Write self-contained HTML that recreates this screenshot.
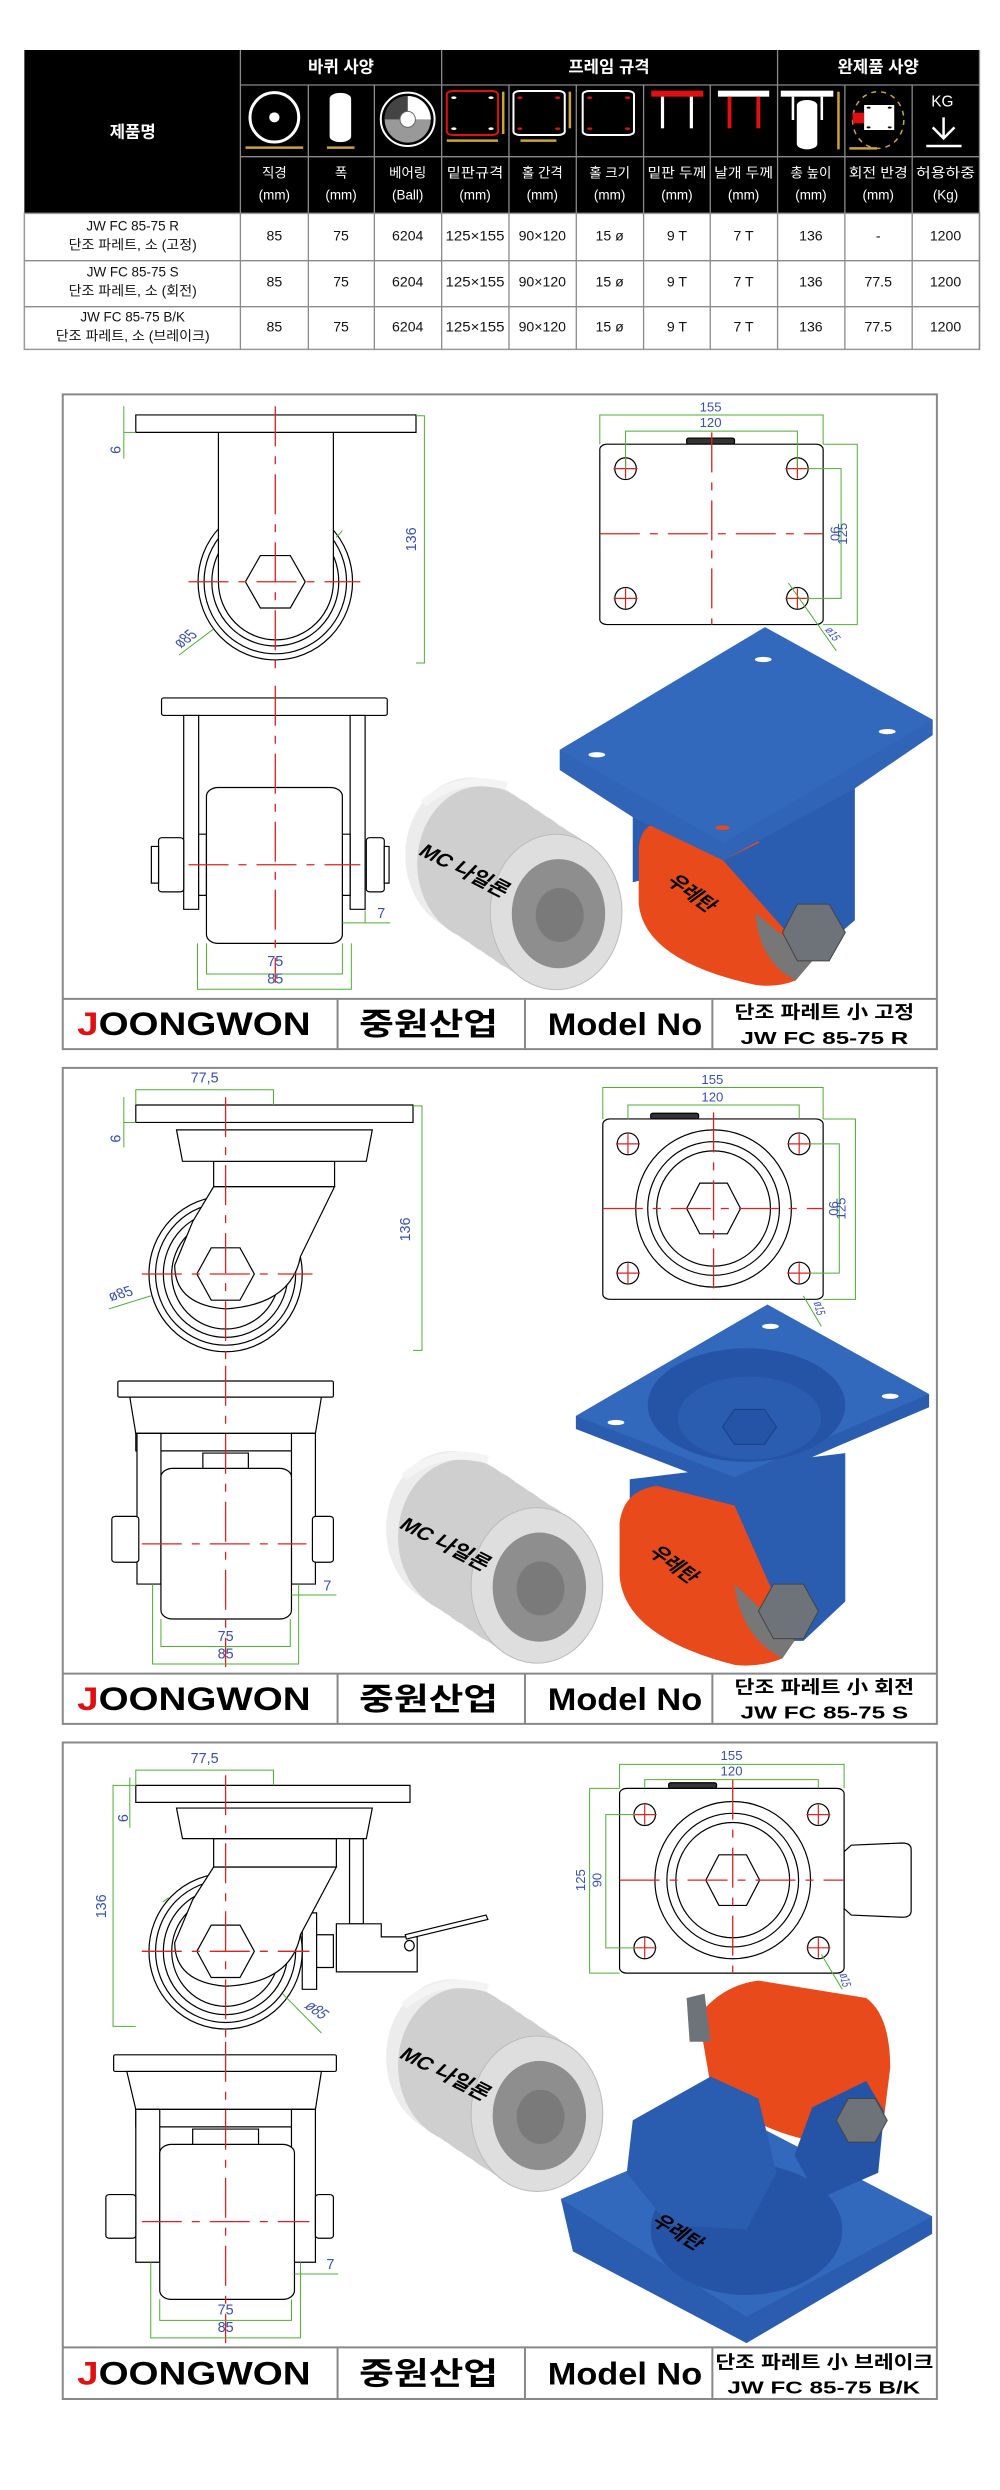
<!DOCTYPE html>
<html><head><meta charset="utf-8"><style>
html,body{margin:0;padding:0;background:#fff;}
body{width:1000px;height:2490px;position:relative;overflow:hidden;}
svg{position:absolute;left:0;top:0;overflow:visible;}
text{font-family:"Liberation Sans","Noto Sans CJK KR",sans-serif;}
svg line,svg rect,svg ellipse,svg path,svg polygon,svg polyline{vector-effect:non-scaling-stroke;}
</style></head><body>

<!-- TABLE -->
<svg style="left:0;top:40px" width="1000" height="320" viewBox="0 0 1560 960" preserveAspectRatio="none">
<rect x="38" y="30" width="1490" height="490" fill="#000"/>
<rect x="38" y="520" width="1490" height="408" fill="#fff" stroke="#999" stroke-width="1.5"/>
<g stroke="#8a8a8a" stroke-width="1.3">
<line x1="375" y1="30" x2="375" y2="928"/><line x1="689" y1="30" x2="689" y2="928"/><line x1="1213" y1="30" x2="1213" y2="928"/>
<line x1="481" y1="135" x2="481" y2="928"/><line x1="584" y1="135" x2="584" y2="928"/><line x1="794" y1="135" x2="794" y2="928"/>
<line x1="899" y1="135" x2="899" y2="928"/><line x1="1004" y1="135" x2="1004" y2="928"/><line x1="1108" y1="135" x2="1108" y2="928"/>
<line x1="1318" y1="135" x2="1318" y2="928"/><line x1="1423" y1="135" x2="1423" y2="928"/><line x1="1528" y1="30" x2="1528" y2="928"/>
<line x1="375" y1="135" x2="1528" y2="135"/><line x1="375" y1="350" x2="1528" y2="350"/>
<line x1="38" y1="662" x2="1528" y2="662"/><line x1="38" y1="800" x2="1528" y2="800"/>
</g>
<g fill="#fff" font-size="26" font-weight="bold" text-anchor="middle">
<text transform="translate(532 98) scale(1 1.92)">바퀴 사양</text>
<text transform="translate(950 98) scale(1 1.92)">프레임 규격</text>
<text transform="translate(1370 98) scale(1 1.92)">완제품 사양</text>
<text transform="translate(207 292) scale(1 1.92)">제품명</text>
</g>
<g fill="none" stroke="#fff">
<ellipse cx="428" cy="232" rx="38" ry="74" stroke-width="3"/>
<rect x="515" y="160" width="32" height="145" rx="16" fill="#fff"/>
<ellipse cx="636" cy="238" rx="42" ry="80" stroke-width="2"/>
<rect x="697" y="153" width="80" height="132" rx="10" stroke="#e01010" stroke-width="2"/>
<rect x="801" y="153" width="80" height="132" rx="10" stroke-width="2"/>
<rect x="909" y="153" width="80" height="132" rx="10" stroke-width="2"/>
</g>
<ellipse cx="428" cy="232" rx="8" ry="15" fill="#fff"/>
<ellipse cx="636" cy="238" rx="36" ry="70" fill="#999"/>
<path d="M636,238 L636,168 A36,70 0 0 1 672,238 Z" fill="#fff"/>
<path d="M636,238 L600,238 A36,70 0 0 1 636,168 Z" fill="#444"/>
<ellipse cx="636" cy="238" rx="12" ry="24" fill="#fff" stroke="#666"/>
<g fill="#fff"><circle cx="708" cy="173" r="4"/><circle cx="766" cy="173" r="4"/><circle cx="708" cy="266" r="4"/><circle cx="766" cy="266" r="4"/></g>
<g fill="#e01010"><circle cx="811" cy="173" r="4"/><circle cx="870" cy="173" r="4"/><circle cx="811" cy="266" r="4"/><circle cx="870" cy="266" r="4"/>
<circle cx="920" cy="173" r="4"/><circle cx="979" cy="173" r="4"/><circle cx="920" cy="266" r="4"/><circle cx="979" cy="266" r="4"/></g>
<rect x="1016" y="152" width="81" height="18" fill="#e01010"/>
<rect x="1031" y="170" width="5" height="95" fill="#fff"/><rect x="1076" y="170" width="5" height="95" fill="#fff"/>
<rect x="1120" y="152" width="80" height="18" fill="#fff"/>
<rect x="1135" y="170" width="6" height="95" fill="#e01010"/><rect x="1180" y="170" width="6" height="95" fill="#e01010"/>
<rect x="1218" y="152" width="82" height="18" fill="#fff"/>
<rect x="1235" y="170" width="4" height="70" fill="#fff"/><rect x="1280" y="170" width="4" height="70" fill="#fff"/>
<rect x="1243" y="180" width="32" height="148" rx="16" fill="#fff"/>
<ellipse cx="1370" cy="240" rx="40" ry="85" fill="none" stroke="#c9a43a" stroke-dasharray="5 5" stroke-width="1.5"/>
<rect x="1348" y="195" width="47" height="75" fill="#fff"/><rect x="1330" y="218" width="18" height="32" fill="#e01010"/>
<g fill="#000"><circle cx="1355" cy="203" r="3"/><circle cx="1388" cy="203" r="3"/><circle cx="1355" cy="262" r="3"/><circle cx="1388" cy="262" r="3"/></g>
<g stroke="#c9a43a" stroke-width="2.5">
<line x1="383" y1="323" x2="473" y2="323"/><line x1="510" y1="323" x2="553" y2="323"/>
<line x1="697" y1="302" x2="777" y2="302"/><line x1="812" y1="302" x2="868" y2="302"/>
<line x1="785" y1="155" x2="785" y2="282"/><line x1="889" y1="155" x2="889" y2="265"/>
<line x1="1308" y1="155" x2="1308" y2="328"/><line x1="1325" y1="325" x2="1368" y2="325"/>
</g>
<text transform="translate(1470 200) scale(1 1.92)" fill="#fff" font-size="24" text-anchor="middle">KG</text>
<g stroke="#fff" stroke-width="2.5" fill="none"><line x1="1472" y1="232" x2="1472" y2="295"/><polyline points="1455,262 1472,295 1489,262"/><line x1="1445" y1="318" x2="1500" y2="318"/></g>
<g fill="#fff" font-size="21" text-anchor="middle">
<text transform="translate(428 412) scale(1 1.92)">직경</text><text transform="translate(428 478) scale(1 1.92)">(mm)</text>
<text transform="translate(532 412) scale(1 1.92)">폭</text><text transform="translate(532 478) scale(1 1.92)">(mm)</text>
<text transform="translate(636 412) scale(1 1.92)">베어링</text><text transform="translate(636 478) scale(1 1.92)">(Ball)</text>
<text transform="translate(741 412) scale(1 1.92)" textLength="88" lengthAdjust="spacingAndGlyphs">밑판규격</text><text transform="translate(741 478) scale(1 1.92)">(mm)</text>
<text transform="translate(846 412) scale(1 1.92)">홀 간격</text><text transform="translate(846 478) scale(1 1.92)">(mm)</text>
<text transform="translate(951 412) scale(1 1.92)">홀 크기</text><text transform="translate(951 478) scale(1 1.92)">(mm)</text>
<text transform="translate(1056 412) scale(1 1.92)" textLength="92" lengthAdjust="spacingAndGlyphs">밑판 두께</text><text transform="translate(1056 478) scale(1 1.92)">(mm)</text>
<text transform="translate(1160 412) scale(1 1.92)" textLength="92" lengthAdjust="spacingAndGlyphs">날개 두께</text><text transform="translate(1160 478) scale(1 1.92)">(mm)</text>
<text transform="translate(1265 412) scale(1 1.92)">총 높이</text><text transform="translate(1265 478) scale(1 1.92)">(mm)</text>
<text transform="translate(1370 412) scale(1 1.92)" textLength="92" lengthAdjust="spacingAndGlyphs">회전 반경</text><text transform="translate(1370 478) scale(1 1.92)">(mm)</text>
<text transform="translate(1475 412) scale(1 1.92)" textLength="92" lengthAdjust="spacingAndGlyphs">허용하중</text><text transform="translate(1475 478) scale(1 1.92)">(Kg)</text>
</g>
<g fill="#111" font-size="21" text-anchor="middle">
<text transform="translate(207 572) scale(1 1.92)">JW FC 85-75 R</text>
<text transform="translate(207 628) scale(1 1.92)" textLength="200" lengthAdjust="spacingAndGlyphs">단조 파레트, 소 (고정)</text>
<text transform="translate(207 710) scale(1 1.92)">JW FC 85-75 S</text>
<text transform="translate(207 766) scale(1 1.92)" textLength="200" lengthAdjust="spacingAndGlyphs">단조 파레트, 소 (회전)</text>
<text transform="translate(207 845) scale(1 1.92)">JW FC 85-75 B/K</text>
<text transform="translate(207 902) scale(1 1.92)" textLength="240" lengthAdjust="spacingAndGlyphs">단조 파레트, 소 (브레이크)</text>
</g>
<g fill="#111" font-size="22" text-anchor="middle">
<text transform="translate(428 602) scale(1 1.92)">85</text><text transform="translate(532 602) scale(1 1.92)">75</text><text transform="translate(636 602) scale(1 1.92)">6204</text>
<text transform="translate(741 602) scale(1 1.92)" textLength="92" lengthAdjust="spacingAndGlyphs">125×155</text><text transform="translate(846 602) scale(1 1.92)">90×120</text>
<text transform="translate(951 602) scale(1 1.92)">15 ø</text><text transform="translate(1056 602) scale(1 1.92)">9 T</text><text transform="translate(1160 602) scale(1 1.92)">7 T</text>
<text transform="translate(1265 602) scale(1 1.92)">136</text><text transform="translate(1370 602) scale(1 1.92)">-</text><text transform="translate(1475 602) scale(1 1.92)">1200</text>
<text transform="translate(428 740) scale(1 1.92)">85</text><text transform="translate(532 740) scale(1 1.92)">75</text><text transform="translate(636 740) scale(1 1.92)">6204</text>
<text transform="translate(741 740) scale(1 1.92)" textLength="92" lengthAdjust="spacingAndGlyphs">125×155</text><text transform="translate(846 740) scale(1 1.92)">90×120</text>
<text transform="translate(951 740) scale(1 1.92)">15 ø</text><text transform="translate(1056 740) scale(1 1.92)">9 T</text><text transform="translate(1160 740) scale(1 1.92)">7 T</text>
<text transform="translate(1265 740) scale(1 1.92)">136</text><text transform="translate(1370 740) scale(1 1.92)">77.5</text><text transform="translate(1475 740) scale(1 1.92)">1200</text>
<text transform="translate(428 874) scale(1 1.92)">85</text><text transform="translate(532 874) scale(1 1.92)">75</text><text transform="translate(636 874) scale(1 1.92)">6204</text>
<text transform="translate(741 874) scale(1 1.92)" textLength="92" lengthAdjust="spacingAndGlyphs">125×155</text><text transform="translate(846 874) scale(1 1.92)">90×120</text>
<text transform="translate(951 874) scale(1 1.92)">15 ø</text><text transform="translate(1056 874) scale(1 1.92)">9 T</text><text transform="translate(1160 874) scale(1 1.92)">7 T</text>
<text transform="translate(1265 874) scale(1 1.92)">136</text><text transform="translate(1370 874) scale(1 1.92)">77.5</text><text transform="translate(1475 874) scale(1 1.92)">1200</text>
</g>
</svg>

<!-- PANEL 1 -->
<svg style="left:40px;top:380px" width="940" height="680" viewBox="0 0 1570 1557" preserveAspectRatio="none">
<rect x="38" y="33" width="1460" height="1499" fill="#fff" stroke="#888" stroke-width="2"/>
<line x1="38" y1="1417" x2="1498" y2="1417" stroke="#888" stroke-width="2"/>
<g stroke="#888" stroke-width="2"><line x1="497" y1="1417" x2="497" y2="1532"/><line x1="810" y1="1417" x2="810" y2="1532"/><line x1="1123" y1="1417" x2="1123" y2="1532"/></g>
<g stroke="#000" stroke-width="1.2" fill="#fff">
<ellipse cx="393" cy="462" rx="129" ry="179"/><ellipse cx="393" cy="462" rx="119" ry="165"/><ellipse cx="393" cy="462" rx="106" ry="147"/><ellipse cx="393" cy="462" rx="92" ry="128"/>
<path d="M298,120 L490,120 L490,462 A96,133 0 0 1 298,462 Z"/>
<polygon points="343,462 368,402 418,402 443,462 418,522 368,522"/>
<rect x="160" y="80" width="468" height="40"/>
</g>
<g stroke="#000" stroke-width="1.2" fill="#fff">
<rect x="203" y="728" width="377" height="40" rx="4"/>
<rect x="240" y="768" width="25" height="444"/><rect x="518" y="768" width="25" height="444"/>
<rect x="198" y="1048" width="42" height="124" rx="6"/><rect x="545" y="1048" width="30" height="124" rx="6"/>
<rect x="186" y="1068" width="12" height="84"/><rect x="575" y="1068" width="8" height="84"/>
<rect x="265" y="1040" width="13" height="140"/><rect x="505" y="1040" width="13" height="140"/>
<rect x="278" y="933" width="227" height="357" rx="20"/>
</g>
<g stroke="#e02020" stroke-width="1.3" stroke-dasharray="40 10 8 10" fill="none">
<line x1="393" y1="60" x2="393" y2="670"/><line x1="248" y1="462" x2="535" y2="462"/>
<line x1="393" y1="700" x2="393" y2="1380"/><line x1="248" y1="1110" x2="535" y2="1110"/>
</g>
<g stroke="#4caf30" stroke-width="1" fill="none">
<polyline points="628,82 642,82 642,648 628,648"/>
<line x1="140" y1="60" x2="140" y2="180"/><line x1="140" y1="120" x2="160" y2="120"/>
<line x1="232" y1="630" x2="290" y2="570"/><line x1="495" y1="360" x2="505" y2="345"/>
<polyline points="278,1290 278,1360 505,1360 505,1290"/>
<polyline points="263,1290 263,1395 520,1395 520,1290"/>
<line x1="505" y1="1243" x2="585" y2="1243"/><line x1="543" y1="1215" x2="543" y2="1243"/>
</g>
<g fill="#3a4fb0" font-size="24" text-anchor="middle">
<text transform="translate(628 365) rotate(-90) scale(1.37 1)">136</text>
<text transform="translate(118 160) rotate(90) scale(1.37 1)">9</text>
<text transform="translate(250 600) rotate(-45) scale(1 1.37)">ø85</text>
<text transform="translate(393 1342) scale(1 1.37)">75</text>
<text transform="translate(393 1382) scale(1 1.37)">85</text>
<text transform="translate(570 1232) scale(1 1.37)">7</text>
</g>
<g stroke="#000" stroke-width="1.2" fill="#fff">
<rect x="1080" y="133" width="80" height="14" rx="4" fill="#333"/>
<rect x="935" y="147" width="373" height="413" rx="12"/>
<ellipse cx="978" cy="203" rx="18" ry="25"/><ellipse cx="1265" cy="203" rx="18" ry="25"/>
<ellipse cx="978" cy="500" rx="18" ry="25"/><ellipse cx="1265" cy="500" rx="18" ry="25"/>
</g>
<g stroke="#e02020" stroke-width="1.2">
<line x1="958" y1="203" x2="998" y2="203"/><line x1="978" y1="180" x2="978" y2="226"/>
<line x1="1245" y1="203" x2="1285" y2="203"/><line x1="1265" y1="180" x2="1265" y2="226"/>
<line x1="958" y1="500" x2="998" y2="500"/><line x1="978" y1="477" x2="978" y2="523"/>
<line x1="1245" y1="500" x2="1285" y2="500"/><line x1="1265" y1="477" x2="1265" y2="523"/>
</g>
<g stroke="#e02020" stroke-width="1.3" stroke-dasharray="40 10 8 10"><line x1="1122" y1="120" x2="1122" y2="560"/><line x1="935" y1="352" x2="1308" y2="352"/></g>
<g stroke="#4caf30" stroke-width="1" fill="none">
<polyline points="935,147 935,80 1308,80 1308,147"/>
<polyline points="978,203 978,117 1265,117 1265,203"/>
<polyline points="1280,203 1338,203 1338,500 1280,500"/>
<polyline points="1308,147 1365,147 1365,560 1308,560"/>
<line x1="1250" y1="465" x2="1330" y2="620"/>
</g>
<g fill="#3a4fb0" font-size="22" text-anchor="middle">
<text transform="translate(1120 72) scale(1 1.37)">155</text>
<text transform="translate(1120 108) scale(1 1.37)">120</text>
<text transform="translate(1320 352) rotate(90) scale(1.37 1)">90</text>
<text transform="translate(1348 352) rotate(-90) scale(1.37 1)">125</text>
<text transform="translate(1318 585) rotate(60) scale(1 1.2)" font-size="18">ø15</text>
</g>
<!-- cylinder -->
<g fill="#cfcfcf">
<ellipse cx="720" cy="1088" rx="110" ry="178" fill="#ececec"/><ellipse cx="740" cy="1107" rx="110" ry="178"/><ellipse cx="761" cy="1125" rx="110" ry="178"/><ellipse cx="781" cy="1144" rx="110" ry="178"/>
<ellipse cx="801" cy="1162" rx="110" ry="178"/><ellipse cx="821" cy="1181" rx="110" ry="178"/><ellipse cx="842" cy="1199" rx="110" ry="178"/>
</g>
<path d="M640,970 Q700,900 780,930" stroke="#f4f4f4" stroke-width="8" fill="none"/>
<ellipse cx="862" cy="1218" rx="110" ry="178" fill="#dedede" stroke="#bbb"/>
<ellipse cx="866" cy="1222" rx="78" ry="125" fill="#8e8e8e"/>
<ellipse cx="868" cy="1225" rx="40" ry="62" fill="#7a7a7a"/>
<text transform="translate(630 1085) rotate(35) scale(1 1.1)" font-size="38" font-weight="bold" fill="#000">MC 나일론</text>
<!-- 3D caster -->
<polygon points="990,1000 1361,935 1361,1237 1283,1330 1230,1330 1141,1100 990,1150" fill="#2a5cb0"/>
<path d="M1000,1070 Q1005,1012 1040,1014 L1203,1058 L1141,1100 L1290,1330 L1262,1375 Q1230,1392 1195,1385 Q1010,1330 1000,1200 Z" fill="#e84a1c"/>
<path d="M1195,1220 Q1200,1330 1262,1375 L1290,1330 Z" fill="#777"/>
<polygon points="868,847 1211,566 1491,778 1491,813 1361,935 1141,1100 990,1001 868,893" fill="#2f64b6"/>
<polygon points="868,847 1211,566 1491,778 1141,1060" fill="#3369bd"/>
<g fill="#fff"><ellipse cx="1208" cy="640" rx="14" ry="6"/><ellipse cx="1415" cy="805" rx="14" ry="6"/><ellipse cx="930" cy="858" rx="14" ry="6"/><ellipse cx="1140" cy="1025" rx="12" ry="5" fill="#e84a1c"/></g>
<polygon points="1240,1265 1265,1200 1318,1200 1345,1265 1318,1330 1265,1330" fill="#6d7378" stroke="#444"/>
<text transform="translate(1045 1150) rotate(45) scale(1 1.1)" font-size="36" font-weight="bold" fill="#000">우레탄</text>
<text transform="translate(62 1500) scale(1 1.37)" font-size="54" font-weight="bold" textLength="390" lengthAdjust="spacingAndGlyphs"><tspan fill="#e01010">J</tspan><tspan fill="#000">OONGWON</tspan></text>
<text transform="translate(533 1500) scale(1 1.37)" font-size="52" font-weight="bold" textLength="232" lengthAdjust="spacingAndGlyphs">중원산업</text>
<text transform="translate(848 1500) scale(1 1.37)" font-size="52" font-weight="bold" textLength="258" lengthAdjust="spacingAndGlyphs">Model No</text>
<text transform="translate(1160 1462) scale(1 1.37)" font-size="30" font-weight="bold" textLength="300" lengthAdjust="spacingAndGlyphs">단조 파레트 小 고정</text>
<text transform="translate(1170 1520) scale(1 1.37)" font-size="30" font-weight="bold" textLength="280" lengthAdjust="spacingAndGlyphs">JW FC 85-75 R</text>
</svg>

<!-- PANEL 2 -->
<svg style="left:40px;top:1060px" width="940" height="680" viewBox="0 0 1570 1557" preserveAspectRatio="none">
<rect x="38" y="18" width="1460" height="1502" fill="#fff" stroke="#888" stroke-width="2"/>
<line x1="38" y1="1405" x2="1498" y2="1405" stroke="#888" stroke-width="2"/>
<g stroke="#888" stroke-width="2"><line x1="497" y1="1405" x2="497" y2="1520"/><line x1="810" y1="1405" x2="810" y2="1520"/><line x1="1123" y1="1405" x2="1123" y2="1520"/></g>
<g stroke="#000" stroke-width="1.2" fill="#fff">
<ellipse cx="310" cy="490" rx="128" ry="178"/><ellipse cx="310" cy="490" rx="117" ry="163"/><ellipse cx="310" cy="490" rx="104" ry="145"/><ellipse cx="310" cy="490" rx="90" ry="126"/>
<path d="M290,290 L492,290 L435,450 Q420,560 310,570 Q225,560 225,470 L255,370 Z"/>
<polygon points="262,490 286,430 334,430 358,490 334,550 286,550"/>
<rect x="290" y="232" width="202" height="58"/>
<polygon points="228,160 555,160 545,232 238,232"/>
<rect x="160" y="103" width="463" height="40"/>
</g>
<g stroke="#000" stroke-width="1.2" fill="#fff">
<rect x="130" y="735" width="360" height="37" rx="3"/>
<polygon points="150,772 470,772 460,855 160,855"/>
<rect x="160" y="855" width="300" height="40"/>
<rect x="162" y="855" width="40" height="345"/><rect x="420" y="855" width="40" height="345"/>
<rect x="120" y="1045" width="45" height="105" rx="6"/><rect x="455" y="1045" width="35" height="105" rx="6"/>
<rect x="272" y="900" width="76" height="40"/>
<rect x="202" y="935" width="218" height="345" rx="20"/>
</g>
<g stroke="#e02020" stroke-width="1.3" stroke-dasharray="40 10 8 10" fill="none">
<line x1="310" y1="85" x2="310" y2="690"/><line x1="170" y1="490" x2="455" y2="490"/>
<line x1="310" y1="700" x2="310" y2="1390"/><line x1="170" y1="1108" x2="445" y2="1108"/>
</g>
<g stroke="#4caf30" stroke-width="1" fill="none">
<polyline points="160,103 160,68 390,68 390,103"/>
<polyline points="623,105 638,105 638,665 623,665"/>
<line x1="140" y1="85" x2="140" y2="200"/><line x1="140" y1="143" x2="160" y2="143"/>
<line x1="115" y1="570" x2="185" y2="540"/>
<polyline points="202,1280 202,1343 418,1343 418,1280"/>
<polyline points="188,1200 188,1383 432,1383 432,1200"/>
<line x1="420" y1="1225" x2="495" y2="1225"/>
</g>
<g fill="#3a4fb0" font-size="24" text-anchor="middle">
<text transform="translate(275 52) scale(1 1.37)">77,5</text>
<text transform="translate(618 388) rotate(-90) scale(1.37 1)">136</text>
<text transform="translate(118 180) rotate(90) scale(1.37 1)">9</text>
<text transform="translate(138 545) rotate(-20) scale(1 1.37)">ø85</text>
<text transform="translate(310 1330) scale(1 1.37)">75</text>
<text transform="translate(310 1370) scale(1 1.37)">85</text>
<text transform="translate(480 1215) scale(1 1.37)">7</text>
</g>
<g stroke="#000" stroke-width="1.2" fill="#fff">
<rect x="1020" y="122" width="80" height="13" rx="4" fill="#333"/>
<rect x="940" y="135" width="368" height="413" rx="12"/>
<ellipse cx="1125" cy="340" rx="130" ry="180"/><ellipse cx="1125" cy="340" rx="110" ry="153"/><ellipse cx="1125" cy="340" rx="95" ry="132"/>
<polygon points="1080,340 1102,282 1148,282 1170,340 1148,398 1102,398"/>
<ellipse cx="982" cy="192" rx="18" ry="25"/><ellipse cx="1268" cy="192" rx="18" ry="25"/>
<ellipse cx="982" cy="488" rx="18" ry="25"/><ellipse cx="1268" cy="488" rx="18" ry="25"/>
</g>
<g stroke="#e02020" stroke-width="1.2">
<line x1="962" y1="192" x2="1002" y2="192"/><line x1="982" y1="169" x2="982" y2="215"/>
<line x1="1248" y1="192" x2="1288" y2="192"/><line x1="1268" y1="169" x2="1268" y2="215"/>
<line x1="962" y1="488" x2="1002" y2="488"/><line x1="982" y1="465" x2="982" y2="511"/>
<line x1="1248" y1="488" x2="1288" y2="488"/><line x1="1268" y1="465" x2="1268" y2="511"/>
</g>
<g stroke="#e02020" stroke-width="1.3" stroke-dasharray="40 10 8 10"><line x1="1125" y1="120" x2="1125" y2="548"/><line x1="940" y1="340" x2="1308" y2="340"/></g>
<g stroke="#4caf30" stroke-width="1" fill="none">
<polyline points="940,135 940,63 1308,63 1308,135"/>
<polyline points="982,135 982,103 1268,103 1268,135"/>
<polyline points="1285,192 1335,192 1335,488 1285,488"/>
<polyline points="1308,135 1362,135 1362,548 1308,548"/>
<line x1="1275" y1="540" x2="1305" y2="610"/>
</g>
<g fill="#3a4fb0" font-size="22" text-anchor="middle">
<text transform="translate(1123 55) scale(1 1.37)">155</text>
<text transform="translate(1123 95) scale(1 1.37)">120</text>
<text transform="translate(1318 340) rotate(90) scale(1.37 1)">90</text>
<text transform="translate(1345 340) rotate(-90) scale(1.37 1)">125</text>
<text transform="translate(1295 570) rotate(80) scale(1 1.2)" font-size="18">ø15</text>
</g>
<g fill="#cfcfcf">
<ellipse cx="688" cy="1073" rx="110" ry="178" fill="#ececec"/><ellipse cx="708" cy="1092" rx="110" ry="178"/><ellipse cx="729" cy="1110" rx="110" ry="178"/><ellipse cx="749" cy="1129" rx="110" ry="178"/>
<ellipse cx="769" cy="1147" rx="110" ry="178"/><ellipse cx="789" cy="1166" rx="110" ry="178"/><ellipse cx="810" cy="1184" rx="110" ry="178"/>
</g>
<path d="M608,955 Q668,885 748,915" stroke="#f4f4f4" stroke-width="8" fill="none"/>
<ellipse cx="830" cy="1203" rx="110" ry="178" fill="#dedede" stroke="#bbb"/>
<ellipse cx="834" cy="1207" rx="78" ry="125" fill="#8e8e8e"/>
<ellipse cx="836" cy="1210" rx="40" ry="62" fill="#7a7a7a"/>
<text transform="translate(598 1070) rotate(35) scale(1 1.1)" font-size="38" font-weight="bold" fill="#000">MC 나일론</text>
<polygon points="985,960 1345,900 1345,1240 1275,1330 1220,1330 1150,1060 985,1100" fill="#2a5cb0"/>
<path d="M968,1060 Q975,985 1030,975 L1160,1020 L1260,1330 L1240,1370 Q1200,1392 1160,1385 Q975,1320 968,1180 Z" fill="#e84a1c"/>
<path d="M1160,1200 Q1170,1320 1240,1370 L1260,1330 Z" fill="#777"/>
<polygon points="895,815 1215,560 1485,765 1485,795 1160,985 895,845" fill="#2a5cb0"/>
<polygon points="895,815 1215,560 1485,765 1160,955" fill="#3369bd"/>
<ellipse cx="1180" cy="790" rx="165" ry="130" fill="#2553a6"/>
<ellipse cx="1185" cy="820" rx="120" ry="95" fill="#2a5cb0"/>
<polygon points="1140,840 1160,800 1210,800 1230,840 1210,880 1160,880" fill="#2553a6" stroke="#1a3f86"/>
<g fill="#fff"><ellipse cx="1220" cy="610" rx="14" ry="6"/><ellipse cx="1420" cy="770" rx="14" ry="6"/><ellipse cx="962" cy="830" rx="14" ry="6"/></g>
<polygon points="1200,1262 1225,1200 1275,1200 1300,1262 1275,1325 1225,1325" fill="#6d7378" stroke="#444"/>
<text transform="translate(1015 1130) rotate(45) scale(1 1.1)" font-size="36" font-weight="bold" fill="#000">우레탄</text>
<text transform="translate(62 1488) scale(1 1.37)" font-size="54" font-weight="bold" textLength="390" lengthAdjust="spacingAndGlyphs"><tspan fill="#e01010">J</tspan><tspan fill="#000">OONGWON</tspan></text>
<text transform="translate(533 1488) scale(1 1.37)" font-size="52" font-weight="bold" textLength="232" lengthAdjust="spacingAndGlyphs">중원산업</text>
<text transform="translate(848 1488) scale(1 1.37)" font-size="52" font-weight="bold" textLength="258" lengthAdjust="spacingAndGlyphs">Model No</text>
<text transform="translate(1160 1450) scale(1 1.37)" font-size="30" font-weight="bold" textLength="300" lengthAdjust="spacingAndGlyphs">단조 파레트 小 회전</text>
<text transform="translate(1170 1508) scale(1 1.37)" font-size="30" font-weight="bold" textLength="280" lengthAdjust="spacingAndGlyphs">JW FC 85-75 S</text>
</svg>

<!-- PANEL 3 -->
<svg style="left:40px;top:1736px" width="940" height="680" viewBox="0 0 1570 1557" preserveAspectRatio="none">
<rect x="38" y="15" width="1460" height="1503" fill="#fff" stroke="#888" stroke-width="2"/>
<line x1="38" y1="1400" x2="1498" y2="1400" stroke="#888" stroke-width="2"/>
<g stroke="#888" stroke-width="2"><line x1="497" y1="1400" x2="497" y2="1518"/><line x1="810" y1="1400" x2="810" y2="1518"/><line x1="1123" y1="1400" x2="1123" y2="1518"/></g>
<g stroke="#000" stroke-width="1.2" fill="#fff">
<rect x="517" y="235" width="23" height="195"/>
<polygon points="495,430 570,430 570,460 630,460 630,540 495,540"/>
<polygon points="610,455 745,410 748,420 612,465"/>
<ellipse cx="617" cy="480" rx="8" ry="12"/>
<rect x="438" y="405" width="24" height="175"/><rect x="462" y="455" width="28" height="75"/>
<ellipse cx="310" cy="493" rx="128" ry="178"/><ellipse cx="310" cy="493" rx="117" ry="163"/><ellipse cx="310" cy="493" rx="104" ry="145"/><ellipse cx="310" cy="493" rx="90" ry="126"/>
<path d="M290,300 L495,300 L435,455 Q420,565 310,573 Q225,563 225,473 L255,375 Z"/>
<polygon points="262,493 286,433 334,433 358,493 334,553 286,553"/>
<rect x="290" y="235" width="205" height="65"/>
<polygon points="228,165 555,165 545,235 238,235"/>
<rect x="160" y="113" width="458" height="39"/>
</g>
<g stroke="#000" stroke-width="1.2" fill="#fff">
<rect x="123" y="730" width="372" height="38" rx="3"/>
<polygon points="145,768 470,768 460,855 160,855"/>
<rect x="160" y="855" width="300" height="40"/>
<rect x="160" y="855" width="40" height="350"/><rect x="420" y="855" width="40" height="350"/>
<rect x="110" y="1050" width="50" height="100" rx="6"/><rect x="460" y="1050" width="30" height="100" rx="6"/>
<rect x="255" y="900" width="110" height="40"/>
<rect x="200" y="935" width="225" height="355" rx="20"/>
</g>
<g stroke="#e02020" stroke-width="1.3" stroke-dasharray="40 10 8 10" fill="none">
<line x1="310" y1="90" x2="310" y2="690"/><line x1="170" y1="493" x2="450" y2="493"/>
<line x1="310" y1="700" x2="310" y2="1390"/><line x1="170" y1="1112" x2="450" y2="1112"/>
</g>
<g stroke="#4caf30" stroke-width="1" fill="none">
<polyline points="160,113 160,78 390,78 390,113"/>
<polyline points="160,113 122,113 122,665 160,665"/>
<line x1="150" y1="95" x2="150" y2="210"/>
<line x1="405" y1="590" x2="470" y2="680"/><line x1="205" y1="380" x2="215" y2="370"/>
<polyline points="200,1290 200,1338 420,1338 420,1290"/>
<polyline points="185,1205 185,1378 435,1378 435,1205"/>
<line x1="425" y1="1232" x2="498" y2="1232"/>
</g>
<g fill="#3a4fb0" font-size="24" text-anchor="middle">
<text transform="translate(275 62) scale(1 1.37)">77,5</text>
<text transform="translate(110 390) rotate(-90) scale(1.37 1)">136</text>
<text transform="translate(130 188) rotate(90) scale(1.37 1)">9</text>
<text transform="translate(455 635) rotate(45) scale(1 1.37)">ø85</text>
<text transform="translate(310 1325) scale(1 1.37)">75</text>
<text transform="translate(310 1365) scale(1 1.37)">85</text>
<text transform="translate(485 1220) scale(1 1.37)">7</text>
</g>
<g stroke="#000" stroke-width="1.2" fill="#fff">
<rect x="1050" y="107" width="80" height="13" rx="4" fill="#333"/>
<path d="M1343,265 L1355,250 L1440,245 Q1455,245 1455,260 L1455,400 Q1455,415 1440,415 L1355,410 L1343,395 Z"/>
<rect x="968" y="120" width="375" height="423" rx="12"/>
<ellipse cx="1157" cy="330" rx="130" ry="180"/><ellipse cx="1157" cy="330" rx="110" ry="153"/><ellipse cx="1157" cy="330" rx="95" ry="132"/>
<polygon points="1112,330 1134,272 1180,272 1202,330 1180,388 1134,388"/>
<ellipse cx="1010" cy="180" rx="18" ry="25"/><ellipse cx="1300" cy="180" rx="18" ry="25"/>
<ellipse cx="1010" cy="485" rx="18" ry="25"/><ellipse cx="1300" cy="485" rx="18" ry="25"/>
</g>
<g stroke="#e02020" stroke-width="1.2">
<line x1="990" y1="180" x2="1030" y2="180"/><line x1="1010" y1="157" x2="1010" y2="203"/>
<line x1="1280" y1="180" x2="1320" y2="180"/><line x1="1300" y1="157" x2="1300" y2="203"/>
<line x1="990" y1="485" x2="1030" y2="485"/><line x1="1010" y1="462" x2="1010" y2="508"/>
<line x1="1280" y1="485" x2="1320" y2="485"/><line x1="1300" y1="462" x2="1300" y2="508"/>
</g>
<g stroke="#e02020" stroke-width="1.3" stroke-dasharray="40 10 8 10"><line x1="1157" y1="100" x2="1157" y2="543"/><line x1="968" y1="330" x2="1343" y2="330"/></g>
<g stroke="#4caf30" stroke-width="1" fill="none">
<polyline points="968,120 968,65 1343,65 1343,120"/>
<polyline points="1010,120 1010,100 1300,100 1300,120"/>
<polyline points="968,120 918,120 918,543 968,543"/>
<polyline points="995,180 945,180 945,485 995,485"/>
<line x1="1305" y1="500" x2="1340" y2="580"/>
</g>
<g fill="#3a4fb0" font-size="22" text-anchor="middle">
<text transform="translate(1155 55) scale(1 1.37)">155</text>
<text transform="translate(1155 90) scale(1 1.37)">120</text>
<text transform="translate(910 330) rotate(-90) scale(1.37 1)">125</text>
<text transform="translate(938 330) rotate(-90) scale(1.37 1)">90</text>
<text transform="translate(1338 560) rotate(80) scale(1 1.2)" font-size="18">ø15</text>
</g>
<g fill="#cfcfcf">
<ellipse cx="688" cy="735" rx="110" ry="178" fill="#ececec"/><ellipse cx="708" cy="754" rx="110" ry="178"/><ellipse cx="729" cy="772" rx="110" ry="178"/><ellipse cx="749" cy="791" rx="110" ry="178"/>
<ellipse cx="769" cy="809" rx="110" ry="178"/><ellipse cx="789" cy="828" rx="110" ry="178"/><ellipse cx="810" cy="846" rx="110" ry="178"/>
</g>
<path d="M608,617 Q668,547 748,577" stroke="#f4f4f4" stroke-width="8" fill="none"/>
<ellipse cx="830" cy="865" rx="110" ry="178" fill="#dedede" stroke="#bbb"/>
<ellipse cx="834" cy="869" rx="78" ry="125" fill="#8e8e8e"/>
<ellipse cx="836" cy="872" rx="40" ry="62" fill="#7a7a7a"/>
<text transform="translate(598 735) rotate(35) scale(1 1.1)" font-size="38" font-weight="bold" fill="#000">MC 나일론</text>
<polygon points="870,1060 1180,880 1490,1100 1490,1140 1180,1390 890,1180" fill="#2a5cb0"/>
<polygon points="870,1060 1180,880 1490,1100 1180,1330" fill="#3369bd"/>
<ellipse cx="1180" cy="1130" rx="160" ry="150" fill="#2553a6"/>
<path d="M1100,640 Q1140,570 1200,560 L1380,600 Q1420,640 1420,760 L1410,870 L1300,930 Q1180,900 1120,800 Z" fill="#e84a1c"/>
<polygon points="990,880 1120,780 1200,830 1230,1000 1180,1130 1050,1120 980,1000" fill="#2a5cb0"/>
<polygon points="1290,850 1380,790 1410,860 1400,1000 1300,1060 1260,960" fill="#2553a6"/>
<polygon points="1330,880 1350,830 1395,830 1415,880 1395,930 1350,930" fill="#6d7378" stroke="#444"/>
<polygon points="1080,600 1110,590 1120,700 1085,700" fill="#6d7378"/>
<text transform="translate(1020 1115) rotate(40) scale(1 1.1)" font-size="36" font-weight="bold" fill="#000">우레탄</text>
<text transform="translate(62 1485) scale(1 1.37)" font-size="54" font-weight="bold" textLength="390" lengthAdjust="spacingAndGlyphs"><tspan fill="#e01010">J</tspan><tspan fill="#000">OONGWON</tspan></text>
<text transform="translate(533 1485) scale(1 1.37)" font-size="52" font-weight="bold" textLength="232" lengthAdjust="spacingAndGlyphs">중원산업</text>
<text transform="translate(848 1485) scale(1 1.37)" font-size="52" font-weight="bold" textLength="258" lengthAdjust="spacingAndGlyphs">Model No</text>
<text transform="translate(1128 1448) scale(1 1.37)" font-size="30" font-weight="bold" textLength="364" lengthAdjust="spacingAndGlyphs">단조 파레트 小 브레이크</text>
<text transform="translate(1148 1505) scale(1 1.37)" font-size="30" font-weight="bold" textLength="322" lengthAdjust="spacingAndGlyphs">JW FC 85-75 B/K</text>
</svg>
</body></html>
